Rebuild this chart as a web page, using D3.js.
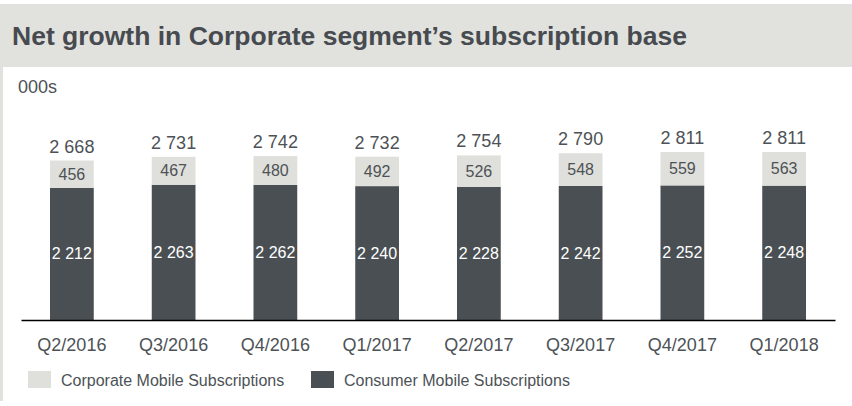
<!DOCTYPE html>
<html>
<head>
<meta charset="utf-8">
<script src="https://cdn.jsdelivr.net/npm/d3@7"></script>
<style>
  body { margin: 0; background: #fff; }
  text { font-family: "Liberation Sans", Arial, sans-serif; }
</style>
</head>
<body>
<svg id="chart"></svg>
<script>
/* chart data */
const quarters = ["Q2/2016", "Q3/2016", "Q4/2016", "Q1/2017", "Q2/2017", "Q3/2017", "Q4/2017", "Q1/2018"];
const consumer = [2212, 2263, 2262, 2240, 2228, 2242, 2252, 2248];
const corporate = [456, 467, 480, 492, 526, 548, 559, 563];
const totals = [2668, 2731, 2742, 2732, 2754, 2790, 2811, 2811];
const seriesNames = ["Corporate Mobile Subscriptions", "Consumer Mobile Subscriptions"];

const width = 852, height = 406;
const light = "#dfdfdb", dark = "#4a4f53", textGrey = "#4d5256";
const fmt = v => d3.format(",")(v).replace(/,/g, " ");

const svg = d3.select("#chart").attr("width", width).attr("height", height);

/* frame and title banner */
svg.append("rect").attr("x", 0).attr("y", 4).attr("width", width).attr("height", 63).attr("fill", "#e1e1de");
svg.append("rect").attr("x", 0).attr("y", 67).attr("width", 3).attr("height", 334).attr("fill", "#e1e1de");
svg.append("text").attr("x", 12).attr("y", 45)
  .attr("font-size", 26.5).attr("font-weight", "bold").attr("fill", "#474b4f")
  .text("Net growth in Corporate segment’s subscription base");
svg.append("text").attr("x", 18).attr("y", 93).attr("font-size", 18).attr("fill", textGrey).text("000s");

/* scales */
const x = d3.scaleBand().domain(quarters).range([21, 835]).paddingInner(0.57).paddingOuter(0.285);
const y = d3.scaleLinear().domain([0, 2811]).range([320, 152]);

const rows = quarters.map((q, i) => ({q, consumer: consumer[i], corporate: corporate[i], total: totals[i]}));

/* consumer segment */
svg.append("g").selectAll("rect").data(rows).enter().append("rect")
  .attr("x", d => x(d.q)).attr("width", x.bandwidth())
  .attr("y", d => y(d.consumer)).attr("height", d => y(0) - y(d.consumer))
  .attr("fill", dark);

/* corporate segment on top */
svg.append("g").selectAll("rect").data(rows).enter().append("rect")
  .attr("x", d => x(d.q)).attr("width", x.bandwidth())
  .attr("y", d => y(d.consumer + d.corporate)).attr("height", d => y(d.consumer) - y(d.consumer + d.corporate))
  .attr("fill", light);

/* labels */
const cx = d => x(d.q) + x.bandwidth() / 2;
svg.append("g").selectAll("text").data(rows).enter().append("text")
  .attr("x", cx).attr("y", d => (y(0) + y(d.consumer)) / 2).attr("dy", "0.35em")
  .attr("text-anchor", "middle").attr("font-size", 16).attr("fill", "#fff")
  .text(d => fmt(d.consumer));
svg.append("g").selectAll("text").data(rows).enter().append("text")
  .attr("x", cx).attr("y", d => (y(d.consumer) + y(d.consumer + d.corporate)) / 2).attr("dy", "0.35em")
  .attr("text-anchor", "middle").attr("font-size", 16).attr("fill", textGrey)
  .text(d => fmt(d.corporate));
svg.append("g").selectAll("text").data(rows).enter().append("text")
  .attr("x", cx).attr("y", d => y(d.consumer + d.corporate) - 8)
  .attr("text-anchor", "middle").attr("font-size", 18).attr("fill", textGrey)
  .text(d => fmt(d.total));

/* x axis */
const xAxis = svg.append("g").attr("transform", `translate(0,${y(0)})`)
  .call(d3.axisBottom(x).tickSize(0).tickPadding(18));
xAxis.select(".domain").attr("stroke", "#000").attr("stroke-width", 1.5);
xAxis.selectAll("text").attr("font-size", 18).attr("fill", textGrey)
  .attr("font-family", "Liberation Sans, Arial, sans-serif");

/* legend */
const legendX = [28, 311];
const legend = svg.append("g").selectAll("g").data(seriesNames).enter().append("g")
  .attr("transform", (d, i) => `translate(${legendX[i]},371)`);
legend.append("rect").attr("width", 23).attr("height", 17).attr("fill", (d, i) => i === 0 ? light : dark);
legend.append("text").attr("x", 33).attr("y", 9).attr("dy", "0.35em")
  .attr("font-size", 16).attr("fill", textGrey).text(d => d);
</script>
</body>
</html>
